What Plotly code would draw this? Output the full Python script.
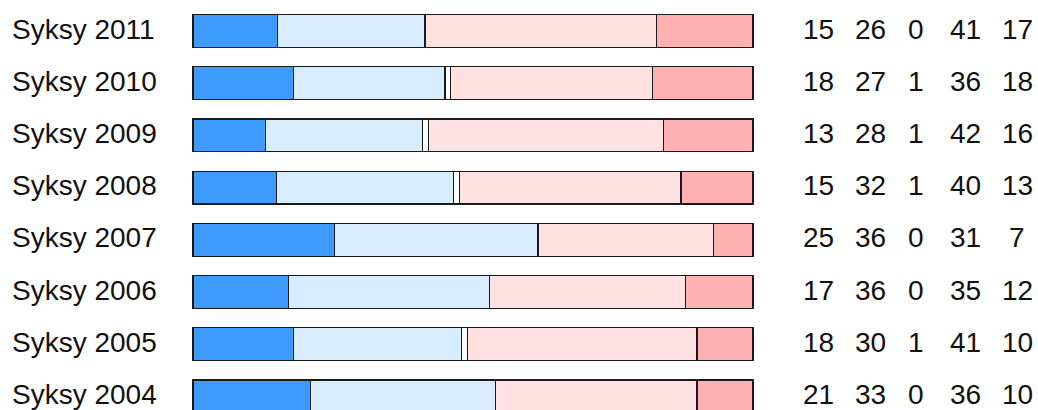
import plotly.graph_objects as go

categories = ["Syksy 2004", "Syksy 2005", "Syksy 2006", "Syksy 2007",
              "Syksy 2008", "Syksy 2009", "Syksy 2010", "Syksy 2011"]
s1 = [21, 18, 17, 25, 15, 13, 18, 15]
s2 = [33, 30, 36, 36, 32, 28, 27, 26]
s3 = [0, 1, 0, 0, 1, 1, 1, 0]
s4 = [36, 41, 35, 31, 40, 42, 36, 41]
s5 = [10, 10, 12, 7, 13, 16, 18, 17]
series = [s1, s2, s3, s4, s5]
colors = ["#3d9aff", "#d8ecff", "#ffffff", "#ffe1e2", "#ffb0b0"]

W, H = 1038, 410
bar_left, bar_right = 193, 753
px_per_unit = (bar_right - bar_left) / 100.0
x_lo = -bar_left / px_per_unit
x_hi = (W - bar_left) / px_per_unit

row_px = 52.2
top_center = 31
y_hi = (len(categories) - 1) + top_center / row_px
y_lo = y_hi - H / row_px

ypos = list(range(len(categories)))

fig = go.Figure()
for vals, col in zip(series, colors):
    fig.add_trace(go.Bar(
        y=ypos, x=vals, orientation="h",
        marker=dict(color=col, line=dict(color="#1a1a1a", width=1.2)),
        hoverinfo="skip", showlegend=False,
    ))

font = dict(family="Liberation Sans, Arial, sans-serif", size=28, color="#111111")
annotations = []
label_x = (10 - bar_left) / px_per_unit
col_centers_px = [818, 870, 916, 965, 1017]
col_centers = [(c - bar_left) / px_per_unit for c in col_centers_px]
for i, cat in enumerate(categories):
    annotations.append(dict(x=label_x, y=i, xref="x", yref="y", text=cat,
                            showarrow=False, xanchor="left", yanchor="middle",
                            yshift=2, font=font))
    for j, vals in enumerate(series):
        annotations.append(dict(x=col_centers[j], y=i, xref="x", yref="y",
                                text=str(vals[i]), showarrow=False,
                                xanchor="center", yanchor="middle",
                                yshift=2, font=font))

fig.update_layout(
    width=W, height=H,
    margin=dict(l=0, r=0, t=0, b=0),
    barmode="stack", barnorm="percent", bargap=0.37,
    paper_bgcolor="white", plot_bgcolor="white",
    xaxis=dict(range=[x_lo, x_hi], visible=False, fixedrange=True),
    yaxis=dict(range=[y_lo, y_hi], visible=False, fixedrange=True),
    annotations=annotations,
)

fig.write_html(
    "out.html",
    config={"displayModeBar": False},
    post_script="document.body.style.margin='0';document.body.style.overflow='hidden';",
)
